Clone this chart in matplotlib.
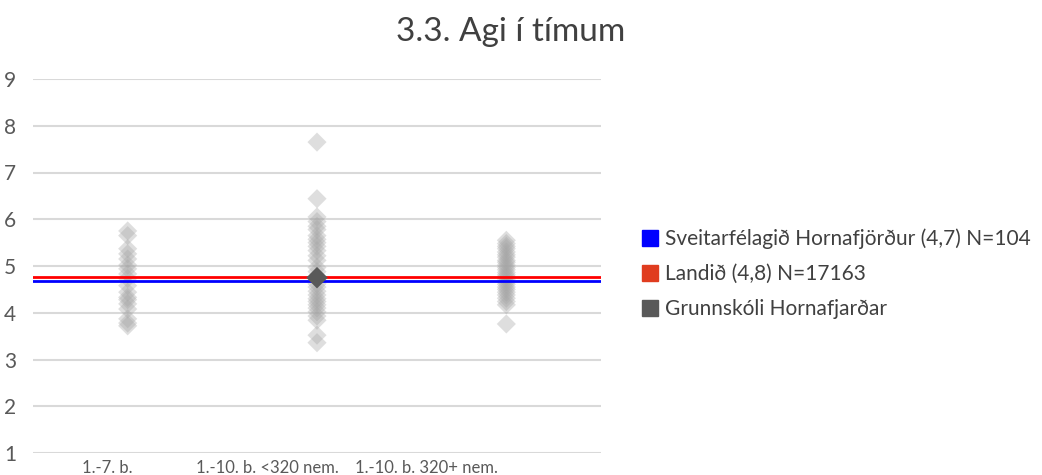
import matplotlib.pyplot as plt
from matplotlib.lines import Line2D

# Data
categories = ['1.-7. b.', '1.-10. b. <320 nem.', '1.-10. b. 320+ nem.']
col1 = [5.75, 5.65, 5.37, 5.26, 5.15, 5.02, 4.94, 4.83, 4.73, 4.58, 4.44,
        4.33, 4.28, 4.19, 4.08, 3.87, 3.78, 3.72]
col2 = [7.65, 6.44, 6.05, 5.95, 5.85, 5.78, 5.65, 5.57, 5.5, 5.42, 5.33,
        5.22, 5.12, 4.97, 4.88, 4.62, 4.55, 4.46, 4.38, 4.3, 4.24, 4.17,
        4.1, 4.02, 3.93, 3.84, 3.52, 3.36]
col3 = [5.55, 5.48, 5.42, 5.37, 5.3, 5.24, 5.19, 5.12, 5.08, 5.02, 4.97,
        4.92, 4.86, 4.81, 4.77, 4.72, 4.66, 4.61, 4.55, 4.5, 4.44, 4.38,
        4.31, 4.24, 4.17, 3.76]
school_x = 2
school_val = 4.75
municipality = 4.67   # Sveitarfélagið Hornafjörður
country = 4.76        # Landið

labels = ['Sveitarfélagið Hornafjörður (4,7) N=104',
          'Landið (4,8) N=17163',
          'Grunnskóli Hornafjarðar']

plt.rcParams['font.family'] = ['Lato', 'DejaVu Sans']

fig = plt.figure(figsize=(10.42, 4.75), dpi=100)
ax = fig.add_axes([33 / 1042, 1 - 453 / 475, 568 / 1042, 374 / 475])

for i, vals in enumerate([col1, col2, col3]):
    ax.scatter([i + 1] * len(vals), vals, marker='D', s=95, color='#a6a6a6',
               alpha=0.36, edgecolors='none', zorder=3)

ax.axhline(municipality, color='#0000ff', lw=2, zorder=4)
ax.axhline(country, color='#ff0000', lw=2, zorder=4)
ax.scatter([school_x], [school_val], marker='D', s=120, color='#595959',
           edgecolors='none', zorder=5)

ax.set_xlim(0.5, 3.5)
ax.set_ylim(1, 9)
ax.set_yticks(range(1, 10))
ax.yaxis.grid(True, color='#d9d9d9', lw=1.5)
ax.set_axisbelow(True)
for s in ax.spines.values():
    s.set_visible(False)
ax.tick_params(axis='y', length=0, pad=12, labelsize=15, labelcolor='#595959')
ax.set_xticks([0.89, 1.74, 2.58])
ax.set_xticklabels(categories)
ax.tick_params(axis='x', length=0, pad=5, labelsize=12, labelcolor='#595959')

fig.text(511 / 1042, 1 - 32 / 475, '3.3. Agi í tímum', ha='center', va='center',
         fontsize=24, color='#404040')

handles = [Line2D([], [], ls='none', marker='s', markersize=11, color='#0000ff'),
           Line2D([], [], ls='none', marker='s', markersize=11, color='#e03c1f'),
           Line2D([], [], ls='none', marker='s', markersize=11, color='#595959')]
fig.legend(handles, labels, loc='center left', bbox_to_anchor=(624 / 1042, 1 - 274 / 475),
           frameon=False, fontsize=15, labelcolor='#404040', handlelength=0.7,
           handletextpad=0.35, labelspacing=0.72)

fig.savefig('out.png', dpi=100)
